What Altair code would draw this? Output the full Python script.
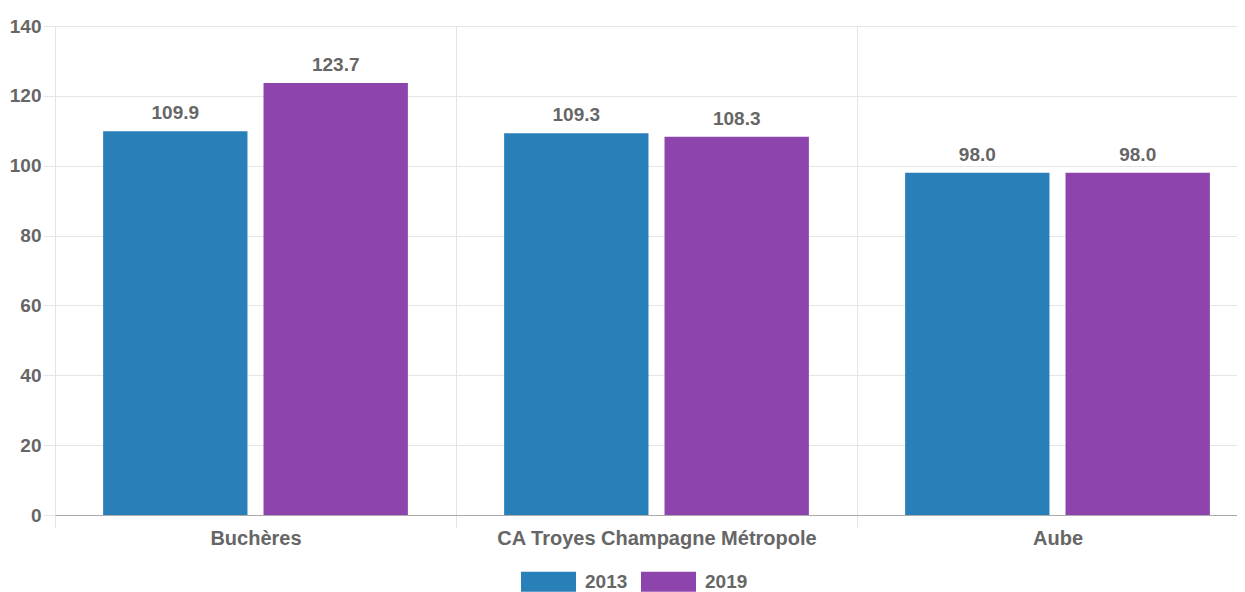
import altair as alt
import pandas as pd

categories = ["Buchères", "CA Troyes Champagne Métropole", "Aube"]
years = ["2013", "2019"]
values_2013 = [109.9, 109.3, 98.0]
values_2019 = [123.7, 108.3, 98.0]
colors = ["#2980b9", "#8e44ad"]
y_ticks = [0, 20, 40, 60, 80, 100, 120, 140]

rows = []
for c, a, b in zip(categories, values_2013, values_2019):
    rows.append({"cat": c, "year": years[0], "value": a})
    rows.append({"cat": c, "year": years[1], "value": b})
df = pd.DataFrame(rows)
df["label"] = df["value"].map(lambda v: f"{v:.1f}")

FONT = "Liberation Sans"
GRAY = "#666666"
GRID = "#e5e5e5"
FS = 19

x_enc = alt.X(
    "cat:N", sort=categories, title=None,
    scale=alt.Scale(paddingInner=0, paddingOuter=0, range=[0, 1203]),
    axis=alt.Axis(labelAngle=0, tickBand="extent", grid=True, gridColor=GRID,
                  ticks=True, tickSize=13, tickColor=GRID, domainColor="#aaaaaa",
                  labelFont=FONT, labelFontSize=20, labelFontWeight="bold",
                  labelColor=GRAY, labelPadding=0, labelLimit=0),
)
y_enc = alt.Y(
    "value:Q", title=None,
    scale=alt.Scale(domain=[0, 140], nice=False),
    axis=alt.Axis(values=y_ticks, grid=True, gridColor=GRID, domain=False,
                  ticks=True, tickSize=12, tickColor=GRID,
                  labelFont=FONT, labelFontSize=FS, labelFontWeight="bold",
                  labelColor=GRAY, labelPadding=2),
)
xoff = alt.XOffset("year:N", sort=years,
                   scale=alt.Scale(paddingInner=0.1, paddingOuter=0.3))

base = alt.Chart(df)
bars = base.mark_bar().encode(
    x=x_enc, y=y_enc, xOffset=xoff,
    color=alt.Color(
        "year:N", sort=years,
        scale=alt.Scale(domain=years, range=colors),
        legend=alt.Legend(title=None, orient="none", legendX=466, legendY=528,
                          direction="horizontal",
                          symbolType="M-1,-0.36H1V0.36H-1Z", symbolSize=3025,
                          symbolStrokeWidth=0, symbolOpacity=1,
                          labelFont=FONT, labelFontSize=FS, labelFontWeight="bold",
                          labelColor=GRAY, labelOffset=9, columnPadding=13),
    ),
)
labels = base.mark_text(dy=-12, baseline="alphabetic", font=FONT, fontSize=FS,
                        fontWeight="bold", color=GRAY).encode(
    x=alt.X("cat:N", sort=categories), y="value:Q", xOffset=xoff, text="label:N"
)

chart = (bars + labels).properties(
    width=1182, height=489,
    autosize=alt.AutoSizeParams(type="none"),
    padding={"left": 47, "top": 18, "right": 0, "bottom": 77},
).configure_view(stroke=None)

chart.save("out.html", embed_options={"renderer": "svg", "actions": False})
